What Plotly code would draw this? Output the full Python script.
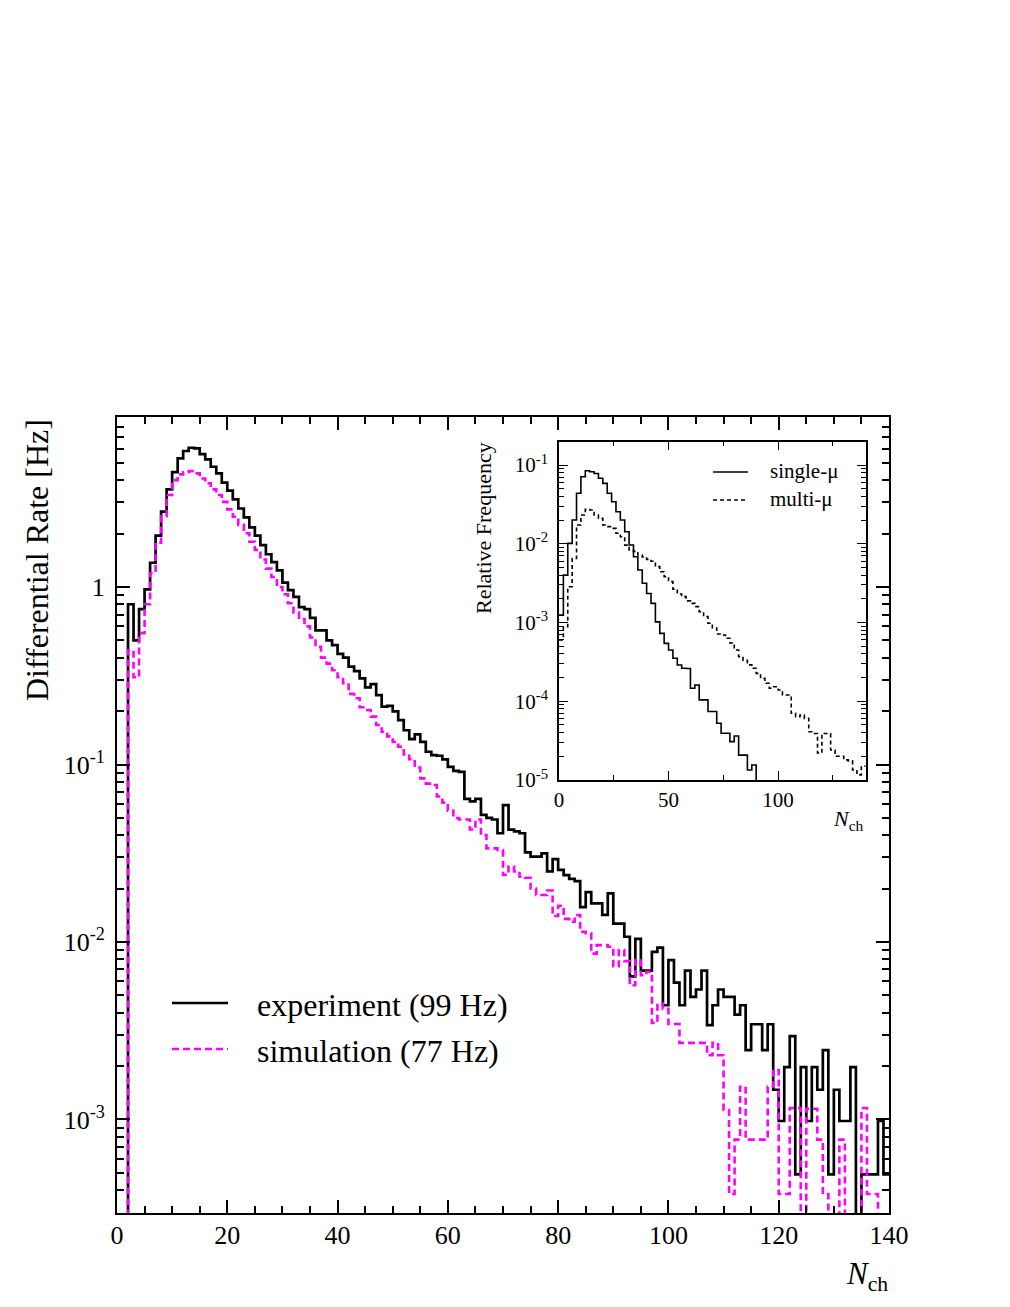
import plotly.graph_objects as go

# ---------------- data ----------------
# main histogram: bins of width 1 in N_ch, 0..140
nch_edges = list(range(0, 141))
experiment = [
    0, 0, 0.80, 0.50, 0.75, 0.97, 1.37, 1.95, 2.66, 3.55,
    4.44, 5.31, 5.84, 6.09, 6.04, 5.61, 5.24, 4.76, 4.37, 3.87,
    3.49, 3.12, 2.77, 2.47, 2.17, 1.95, 1.72, 1.53, 1.38, 1.24,
    1.06, 0.96, 0.88, 0.77, 0.75, 0.67, 0.57, 0.57, 0.50, 0.47,
    0.42, 0.40, 0.356, 0.336, 0.306, 0.272, 0.284, 0.246, 0.212, 0.214,
    0.199, 0.178, 0.156, 0.139, 0.148, 0.134, 0.118, 0.113, 0.112, 0.107,
    0.097, 0.092, 0.091, 0.064, 0.062, 0.064, 0.052, 0.050, 0.049, 0.041,
    0.059, 0.043, 0.042, 0.041, 0.032, 0.0303, 0.0303, 0.0316, 0.025, 0.0293,
    0.0255, 0.0238, 0.0227, 0.0220, 0.0157, 0.0191, 0.0165, 0.0165, 0.0142, 0.0188,
    0.0127, 0.0127, 0.0107, 0.0064, 0.0104, 0.0069, 0.0069, 0.0088, 0.0093, 0.0044,
    0.0079, 0.0059, 0.0044, 0.0069, 0.0049, 0.0054, 0.0069, 0.0034, 0.0044, 0.0054,
    0.0049, 0.0049, 0.0039, 0.0044, 0.00246, 0.00344, 0.00344, 0.00246, 0.00344, 0.00147,
    0.00098, 0.00197, 0.00295, 0.00049, 0.00197, 0.00098, 0.00197, 0.00147, 0.00246, 0.00049,
    0.00147, 0.00098, 0.00098, 0.00197, 0, 0.00049, 0.00049, 0.00049, 0.00098, 0.00049,
]
simulation = [
    0, 0, 0.44, 0.31, 0.55, 0.80, 1.20, 1.78, 2.51, 3.30,
    4.00, 4.31, 4.43, 4.50, 4.37, 4.09, 3.84, 3.55, 3.30, 3.02,
    2.74, 2.49, 2.24, 2.01, 1.80, 1.62, 1.43, 1.27, 1.14, 1.00,
    0.91, 0.81, 0.72, 0.66, 0.60, 0.52, 0.46, 0.40, 0.37, 0.34,
    0.31, 0.287, 0.25, 0.236, 0.21, 0.203, 0.186, 0.167, 0.153, 0.144,
    0.134, 0.126, 0.114, 0.107, 0.096, 0.0835, 0.078, 0.0766, 0.066, 0.061,
    0.055, 0.050, 0.049, 0.049, 0.043, 0.049, 0.040, 0.0337, 0.0337, 0.033,
    0.0239, 0.0266, 0.025, 0.0233, 0.023, 0.0200, 0.0184, 0.0184, 0.0195, 0.014,
    0.016, 0.0135, 0.013, 0.0142, 0.0114, 0.0112, 0.0086, 0.0096, 0.0096, 0.0094,
    0.0073, 0.0090, 0.0078, 0.0057, 0.0079, 0.0065, 0.0068, 0.0035, 0.0045, 0.0042,
    0.00345, 0.00345, 0.0027, 0.0027, 0.0027, 0.0027, 0.0027, 0.0023, 0.0027, 0.0023,
    0.00113, 0.00038, 0.00077, 0.00153, 0.00077, 0.00077, 0.00077, 0.00077, 0.00153, 0.0019,
    0.00038, 0.00038, 0.00116, 0.00116, 0, 0.00115, 0.00115, 0.00077, 0.00038, 0,
    0, 0.00077, 0, 0, 0, 0.00116, 0.00038, 0.00038, 0, 0,
]

# inset histogram: bins of width 2 in N_ch, 0..140
inset_edges = list(range(0, 141, 2))
single_mu = [
    1.24e-3, 4.0e-3, 1.01e-2, 2.0e-2, 4.37e-2, 7.1e-2, 8.47e-2, 8.2e-2, 7.8e-2, 6.78e-2,
    5.85e-2, 4.37e-2, 3.42e-2, 2.55e-2, 2.0e-2, 1.42e-2, 9.64e-3, 6.85e-3, 4.65e-3, 3.15e-3,
    2.34e-3, 1.75e-3, 1.02e-3, 7.28e-4, 5.43e-4, 4.48e-4, 3.51e-4, 2.89e-4, 2.62e-4, 2.6e-4,
    1.46e-4, 1.61e-4, 1.04e-4, 1.04e-4, 7.4e-5, 7.4e-5, 5.25e-5, 3.92e-5, 3.92e-5, 3.07e-5,
    3.62e-5, 2.07e-5, 2.07e-5, 1.34e-5, 1.55e-5, 0, 0, 0, 0, 0,
    0, 0, 0, 0, 0, 0, 0, 0, 0, 0,
    0, 0, 0, 0, 0, 0, 0, 0, 0, 0,
]
multi_mu = [
    6.0e-4, 8.85e-4, 2.85e-3, 6.5e-3, 1.73e-2, 2.32e-2, 2.73e-2, 2.68e-2, 2.32e-2, 2.1e-2,
    1.73e-2, 1.65e-2, 1.57e-2, 1.36e-2, 1.23e-2, 9.6e-3, 8.33e-3, 8.0e-3, 7.2e-3, 6.8e-3,
    6.34e-3, 6.0e-3, 5.12e-3, 4.42e-3, 3.82e-3, 3.3e-3, 2.64e-3, 2.3e-3, 2.13e-3, 1.88e-3,
    1.75e-3, 1.59e-3, 1.37e-3, 1.19e-3, 9.8e-4, 8.5e-4, 7.14e-4, 6.94e-4, 6.3e-4, 5.5e-4,
    4.48e-4, 3.68e-4, 3.3e-4, 2.9e-4, 2.62e-4, 2.26e-4, 1.95e-4, 1.69e-4, 1.46e-4, 1.53e-4,
    1.39e-4, 1.2e-4, 1.2e-4, 7.03e-5, 6.37e-5, 6.7e-5, 6.07e-5, 4.1e-5, 3.9e-5, 2.2e-5,
    3.9e-5, 3.9e-5, 2.4e-5, 2.0e-5, 2.0e-5, 1.8e-5, 1.75e-5, 1.34e-5, 1.16e-5, 1.5e-5,
]

main_ytickvals = [1e-3, 1e-2, 1e-1, 1]
main_yticktext = ["10<sup>-3</sup>", "10<sup>-2</sup>", "10<sup>-1</sup>", "1"]
inset_ytickvals = [1e-5, 1e-4, 1e-3, 1e-2, 1e-1]
inset_yticktext = ["10<sup>-5</sup>", "10<sup>-4</sup>", "10<sup>-3</sup>", "10<sup>-2</sup>", "10<sup>-1</sup>"]

# ---------------- helpers ----------------
OFF = 8                      # default page body margin
W, H = 1010 - OFF, 1307 - OFF
L, R, T, B = 117, 889, 417, 1213  # main plot frame in page pixels
FONT = "Liberation Serif"


def px(xp, yp):
    return (xp - L) / (R - L), (B - yp) / (B - T)


def steps(vals):
    # zero bins are drawn down to (below) the axis floor, as in a ROOT histogram
    v = [val if val > 0 else 1e-9 for val in vals]
    return v + [v[-1]]


def minor_log(lo, hi):
    return [k * 10.0 ** d for d in range(lo, hi) for k in range(2, 10)]


fig = go.Figure()

fig.add_trace(go.Scatter(x=nch_edges, y=steps(experiment), mode="lines", line_shape="hv",
                         line=dict(color="black", width=2.7), xaxis="x", yaxis="y",
                         showlegend=False, hoverinfo="skip"))
fig.add_trace(go.Scatter(x=nch_edges, y=steps(simulation), mode="lines", line_shape="hv",
                         line=dict(color="#ff00ff", width=2.6, dash="7px,4px"), xaxis="x", yaxis="y",
                         showlegend=False, hoverinfo="skip"))
fig.add_trace(go.Scatter(x=inset_edges, y=steps(single_mu), mode="lines", line_shape="hv",
                         line=dict(color="black", width=1.6), xaxis="x2", yaxis="y2",
                         showlegend=False, hoverinfo="skip"))
fig.add_trace(go.Scatter(x=inset_edges, y=steps(multi_mu), mode="lines", line_shape="hv",
                         line=dict(color="black", width=1.6, dash="4px,3px"), xaxis="x2", yaxis="y2",
                         showlegend=False, hoverinfo="skip"))

ix0, iy0 = px(559, 780)
ix1, iy1 = px(865.7, 441.7)

axis_common = dict(showline=True, linecolor="black", mirror="allticks", ticks="inside",
                   tickcolor="black", showgrid=False, zeroline=False)

fig.update_layout(
    width=W, height=H,
    margin=dict(l=L - OFF, r=1010 - R, t=T - OFF, b=1307 - B, pad=0),
    paper_bgcolor="white", plot_bgcolor="white",
    font=dict(family=FONT, color="black"),
    xaxis=dict(domain=[0, 1], anchor="y", range=[0, 140], tick0=0, dtick=20,
               ticklen=13, tickwidth=1.5, linewidth=2,
               minor=dict(dtick=5, ticks="inside", ticklen=7, tickwidth=1.5, tickcolor="black"),
               tickfont=dict(family=FONT, size=26), ticklabelstandoff=-2, **axis_common),
    yaxis=dict(domain=[0, 1], anchor="x", type="log", range=[-3.527, 0.958],
               tickmode="array", tickvals=main_ytickvals, ticktext=main_yticktext,
               ticklen=13, tickwidth=1.5, linewidth=2,
               minor=dict(tickmode="array", tickvals=minor_log(-4, 1), ticks="inside",
                          ticklen=7, tickwidth=1.5, tickcolor="black"),
               tickfont=dict(family=FONT, size=26), ticklabelstandoff=5, **axis_common),
    xaxis2=dict(domain=[ix0, ix1], anchor="y2", range=[0, 140], tick0=0, dtick=50,
                ticklen=9, tickwidth=1.2, linewidth=1.5,
                minor=dict(dtick=25, ticks="inside", ticklen=5, tickwidth=1.2, tickcolor="black"),
                tickfont=dict(family=FONT, size=21), ticklabelstandoff=0, **axis_common),
    yaxis2=dict(domain=[iy0, iy1], anchor="x2", type="log", range=[-5, -0.704],
                tickmode="array", tickvals=inset_ytickvals, ticktext=inset_yticktext,
                ticklen=9, tickwidth=1.2, linewidth=1.5,
                minor=dict(tickmode="array", tickvals=minor_log(-5, 0), ticks="inside",
                           ticklen=5, tickwidth=1.2, tickcolor="black"),
                tickfont=dict(family=FONT, size=21), ticklabelstandoff=5, **axis_common),
)

annotations = []
# main axis titles
x, y = px(37, 560)
annotations.append(dict(x=x, y=y, xref="paper", yref="paper", text="Differential Rate [Hz]",
                        textangle=-90, showarrow=False, font=dict(family=FONT, size=32),
                        xanchor="center", yanchor="middle"))
x, y = px(890, 1276)
annotations.append(dict(x=x, y=y, xref="paper", yref="paper", text="<i>N</i><sub>ch</sub>",
                        showarrow=False, font=dict(family=FONT, size=31),
                        xanchor="right", yanchor="middle"))
# inset axis titles
x, y = px(483, 528)
annotations.append(dict(x=x, y=y, xref="paper", yref="paper", text="Relative Frequency",
                        textangle=-90, showarrow=False, font=dict(family=FONT, size=22),
                        xanchor="center", yanchor="middle"))
x, y = px(866, 820)
annotations.append(dict(x=x, y=y, xref="paper", yref="paper", text="<i>N</i><sub>ch</sub>",
                        showarrow=False, font=dict(family=FONT, size=22),
                        xanchor="right", yanchor="middle"))

# main legend
shapes = []
legend_main = [("experiment (99 Hz)", 1003, dict(color="black", width=2.7)),
               ("simulation (77 Hz)", 1049, dict(color="#ff00ff", width=2.6, dash="7px,4px"))]
for label, yp, ln in legend_main:
    x0, y0 = px(172, yp)
    x1, _ = px(228, yp)
    shapes.append(dict(type="line", xref="paper", yref="paper", x0=x0, x1=x1, y0=y0, y1=y0, line=ln))
    tx, ty = px(255, yp + 2)
    annotations.append(dict(x=tx, y=ty, xref="paper", yref="paper", text=label, showarrow=False,
                            font=dict(family=FONT, size=32), xanchor="left", yanchor="middle"))

legend_inset = [("single-\u03bc", 472, dict(color="black", width=1.6)),
                ("multi-\u03bc", 500, dict(color="black", width=1.6, dash="4px,3px"))]
for label, yp, ln in legend_inset:
    x0, y0 = px(713, yp)
    x1, _ = px(748, yp)
    shapes.append(dict(type="line", xref="paper", yref="paper", x0=x0, x1=x1, y0=y0, y1=y0, line=ln))
    tx, ty = px(768, yp - 1)
    annotations.append(dict(x=tx, y=ty, xref="paper", yref="paper", text=label, showarrow=False,
                            font=dict(family=FONT, size=21), xanchor="left", yanchor="middle"))

fig.update_layout(annotations=annotations, shapes=shapes)

fig.write_html("out.html")
